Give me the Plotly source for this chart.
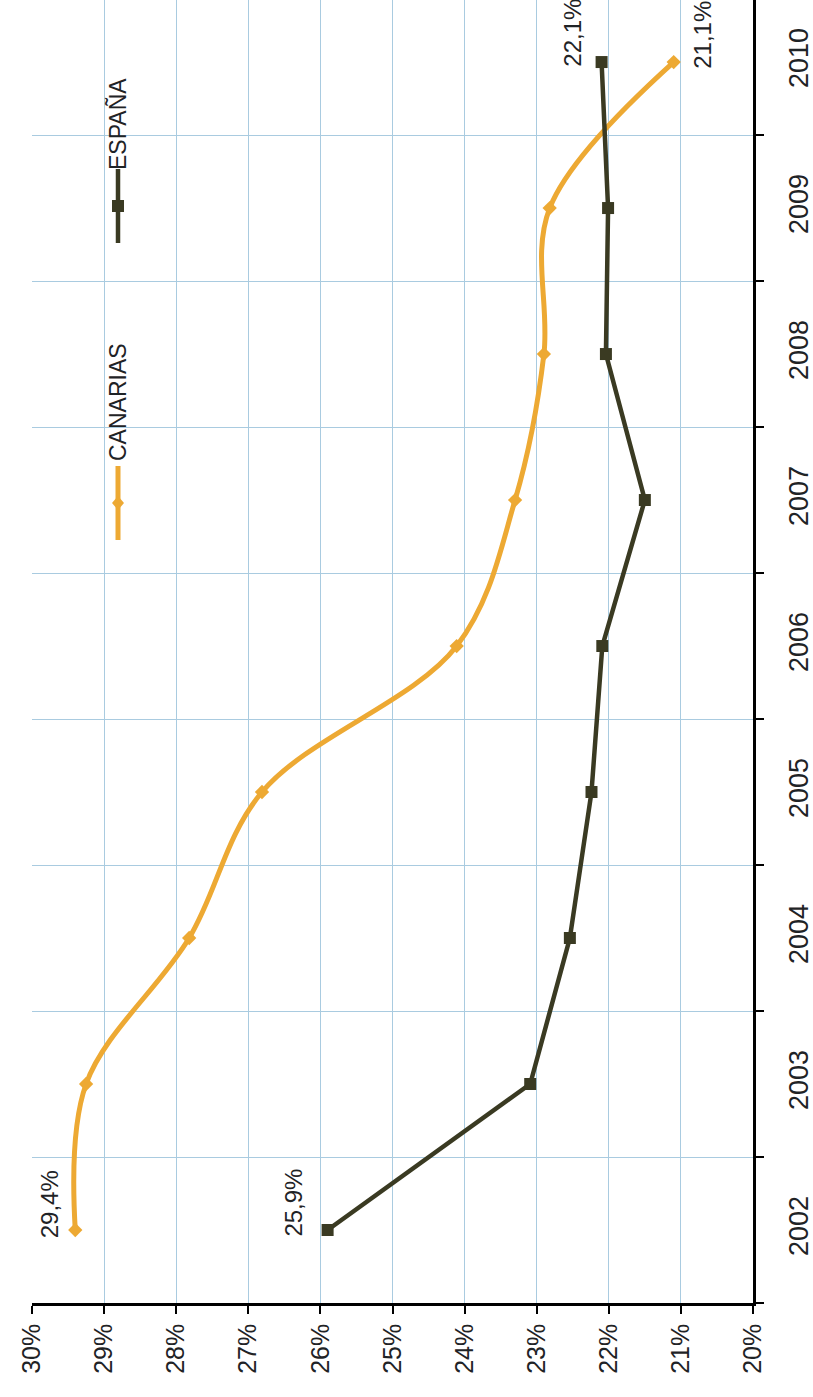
import plotly.graph_objects as go

years = ["2002", "2003", "2004", "2005", "2006", "2007", "2008", "2009", "2010"]
canarias = [29.4, 29.25, 27.82, 26.81, 24.11, 23.30, 22.90, 22.82, 21.1]
espana = [25.9, 23.09, 22.54, 22.24, 22.09, 21.50, 22.04, 22.01, 22.1]
pct_ticks = [30, 29, 28, 27, 26, 25, 24, 23, 22, 21, 20]
pct_labels = [f"{v}%" for v in pct_ticks]

C_CAN = "#EDA933"
C_ESP = "#3A3A22"
GRID = "#A9CBE0"
FONT = "Liberation Sans"
TXT = "#1f2326"


def fmt(v):
    return f"{v:.1f}%".replace(".", ",")


fig = go.Figure()
fig.add_trace(go.Scatter(
    x=canarias, y=years, mode="lines+markers", name="CANARIAS",
    line=dict(color=C_CAN, width=5, shape="spline", smoothing=1.0),
    marker=dict(symbol="diamond", size=11, color=C_CAN),
    showlegend=False, cliponaxis=False,
))
fig.add_trace(go.Scatter(
    x=espana, y=years, mode="lines+markers", name="ESPAÑA",
    line=dict(color=C_ESP, width=4.5),
    marker=dict(symbol="square", size=12, color=C_ESP),
    showlegend=False, cliponaxis=False,
))

first, last = 0, len(years) - 1
ann = []
# data labels (first and last points); y given as category index
ann.append(dict(x=canarias[first], y=first, text=fmt(canarias[first]), xshift=-26, yshift=26))
ann.append(dict(x=espana[first], y=first, text=fmt(espana[first]), xshift=-35, yshift=27))
ann.append(dict(x=espana[last], y=last, text=fmt(espana[last]), xshift=-30, yshift=29))
ann.append(dict(x=canarias[last], y=last, text=fmt(canarias[last]), xshift=28, yshift=27))
for a in ann:
    a.update(xref="x", yref="y", showarrow=False, textangle=-90,
             xanchor="center", yanchor="middle",
             font=dict(family=FONT, size=24, color=TXT))


# manual rotated legend (paper coordinates derived from pixel layout)
def py(p):
    return (1303 - p) / 1303


lx = (118 - 32) / 721
ann.append(dict(xref="paper", yref="paper", x=lx, y=py(402), text="CANARIAS",
                xanchor="center", yanchor="middle",
                showarrow=False, textangle=-90, font=dict(family=FONT, size=23, color=TXT)))
ann.append(dict(xref="paper", yref="paper", x=lx, y=py(124), text="ESPAÑA",
                xanchor="center", yanchor="middle",
                showarrow=False, textangle=-90, font=dict(family=FONT, size=23, color=TXT)))

shapes = []
for cy, col, sym in [(py(503), C_CAN, "diamond"), (py(206), C_ESP, "square")]:
    shapes.append(dict(type="line", xref="paper", yref="paper", xsizemode="pixel", ysizemode="pixel",
                       xanchor=lx, yanchor=cy, x0=0, x1=0, y0=-37, y1=37,
                       line=dict(color=col, width=5 if sym == "diamond" else 4.5)))
    if sym == "diamond":
        shapes.append(dict(type="path", xref="paper", yref="paper", xsizemode="pixel", ysizemode="pixel",
                           xanchor=lx, yanchor=cy, path="M0,-7 L6,0 L0,7 L-6,0 Z",
                           fillcolor=col, line=dict(color=col, width=0)))
    else:
        shapes.append(dict(type="rect", xref="paper", yref="paper", xsizemode="pixel", ysizemode="pixel",
                           xanchor=lx, yanchor=cy, x0=-6, x1=6, y0=-6, y1=6,
                           fillcolor=col, line=dict(color=col, width=0)))

fig.update_layout(
    width=813, height=1397,
    margin=dict(l=32, r=60, t=0, b=94),
    paper_bgcolor="white", plot_bgcolor="white",
    annotations=ann, shapes=shapes,
    font=dict(family=FONT, color=TXT),
)
fig.update_xaxes(
    range=[30, 20], tickvals=pct_ticks, ticktext=pct_labels, tickangle=-90,
    showgrid=True, gridcolor=GRID, gridwidth=1.2, automargin=False,
    showline=True, linecolor="black", linewidth=2.5,
    ticks="outside", ticklen=8, tickwidth=2, tickcolor="black",
    ticklabelstandoff=0,
    tickfont=dict(family=FONT, size=25, color=TXT), zeroline=False,
)
fig.update_yaxes(
    type="category", categoryorder="array", categoryarray=years,
    range=[-0.5, 8.425], side="right", tickangle=-90, tickson="boundaries",
    showgrid=True, gridcolor=GRID, gridwidth=1.2, automargin=False,
    showline=True, linecolor="black", linewidth=2.5,
    ticks="outside", ticklen=8, tickwidth=2, tickcolor="black",
    ticklabelstandoff=20,
    tickfont=dict(family=FONT, size=27, color=TXT),
)

fig.write_html("out.html", config={"displayModeBar": False},
               post_script="document.body.style.margin='0';")
